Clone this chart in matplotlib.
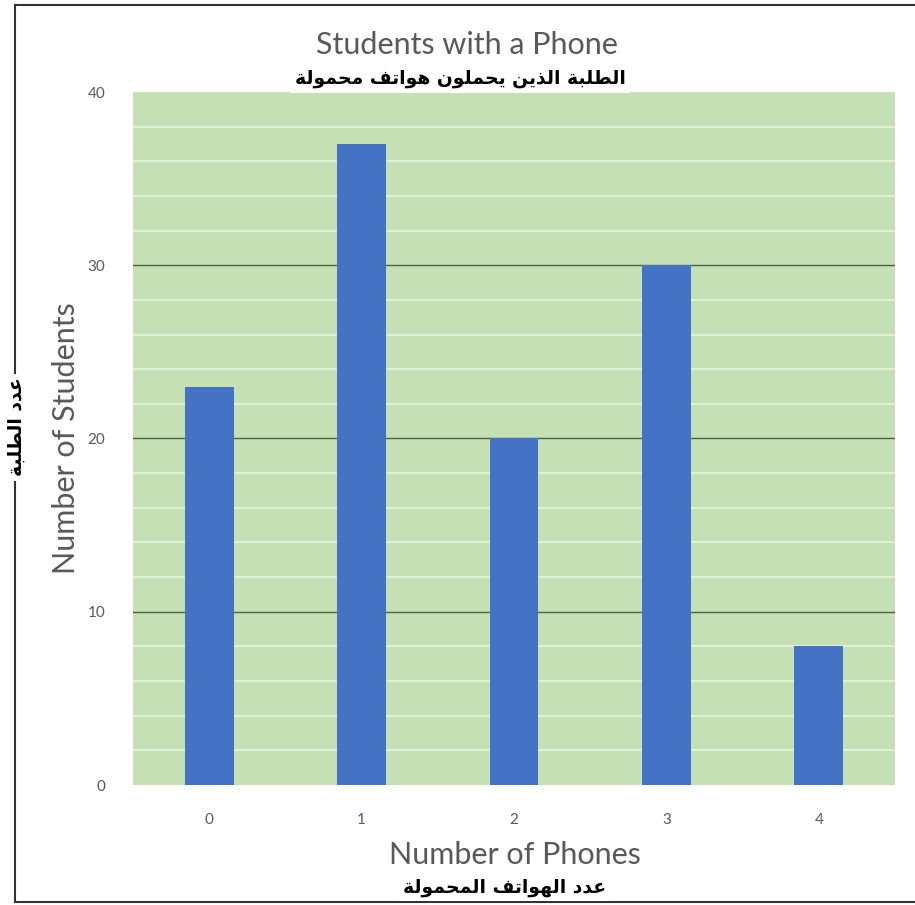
import numpy as np
import matplotlib.pyplot as plt
from matplotlib.lines import Line2D

# data
phones = [0, 1, 2, 3, 4]
students = [23, 37, 20, 30, 8]
y_ticks = [0, 10, 20, 30, 40]

title_en = "Students with a Phone"
title_ar = "الطلبة الذين يحملون هواتف محمولة"
xlabel_en = "Number of Phones"
xlabel_ar = "عدد الهواتف المحمولة"
ylabel_en = "Number of Students"
ylabel_ar = "عدد الطلبة"

# matplotlib has no arabic shaping, so map letters to presentation forms
DUAL = {'ب': 0xFE8F, 'ت': 0xFE95, 'ث': 0xFE99, 'ج': 0xFE9D, 'ح': 0xFEA1,
        'خ': 0xFEA5, 'س': 0xFEB1, 'ش': 0xFEB5, 'ص': 0xFEB9, 'ض': 0xFEBD,
        'ط': 0xFEC1, 'ظ': 0xFEC5, 'ع': 0xFEC9, 'غ': 0xFECD, 'ف': 0xFED1,
        'ق': 0xFED5, 'ك': 0xFED9, 'ل': 0xFEDD, 'م': 0xFEE1, 'ن': 0xFEE5,
        'ه': 0xFEE9, 'ي': 0xFEF1, 'ئ': 0xFE89}
RIGHT = {'آ': 0xFE81, 'أ': 0xFE83, 'ؤ': 0xFE85, 'إ': 0xFE87, 'ا': 0xFE8D,
         'ة': 0xFE93, 'د': 0xFEA9, 'ذ': 0xFEAB, 'ر': 0xFEAD, 'ز': 0xFEAF,
         'و': 0xFEED, 'ى': 0xFEEF}


def shape_arabic(text):
    out = []
    n = len(text)
    for i, ch in enumerate(text):
        prev_j = i > 0 and text[i - 1] in DUAL
        next_j = i < n - 1 and (text[i + 1] in DUAL or text[i + 1] in RIGHT)
        if ch in DUAL:
            base = DUAL[ch]
            if prev_j and next_j:
                out.append(chr(base + 3))
            elif prev_j:
                out.append(chr(base + 1))
            elif next_j:
                out.append(chr(base + 2))
            else:
                out.append(chr(base))
        elif ch in RIGHT:
            out.append(chr(RIGHT[ch] + (1 if prev_j else 0)))
        else:
            out.append(ch)
    return ''.join(reversed(out))


W, H = 915, 905
fig = plt.figure(figsize=(W / 100, H / 100), dpi=100)
fig.patch.set_facecolor('white')


def fx(x):
    return x / W


def fy(y):
    return 1 - y / H


ax = fig.add_axes([fx(133), fy(785), fx(895) - fx(133), fy(92) - fy(785)])
ax.set_facecolor('#C5E0B4')

ax.bar(phones, students, width=0.32, color='#4472C4', zorder=3)

ax.set_xlim(-0.5, 4.5)
ax.set_ylim(0, 40)
ax.set_yticks(y_ticks)
ax.set_xticks(phones)
ax.set_yticks(np.arange(0, 41, 2), minor=True)
ax.grid(which='minor', axis='y', color='#E0EFD6', linewidth=1.6, zorder=1)
# dark lines only at the inner major ticks
for t in y_ticks[1:-1]:
    ax.axhline(t, color='#4C5E43', linewidth=1.0, zorder=2)
ax.tick_params(which='both', length=0)
ax.tick_params(axis='y', pad=20, labelsize=11, labelcolor='#595959')
ax.tick_params(axis='x', pad=20, labelsize=11, labelcolor='#595959')
for s in ax.spines.values():
    s.set_visible(False)
for lbl in ax.get_xticklabels() + ax.get_yticklabels():
    lbl.set_family('Lato')

# frame lines around the chart
fig.add_artist(Line2D([fx(15), 1], [fy(5), fy(5)], color='#333333', lw=1.5))
fig.add_artist(Line2D([fx(15), fx(15)], [fy(5), fy(902)], color='#333333', lw=1.5))
fig.add_artist(Line2D([fx(15), 1], [fy(902), fy(902)], color='#333333', lw=1.5))

fig.text(fx(467), fy(45), title_en, ha='center', va='center', fontsize=22,
         color='#595959', family='Lato')
fig.text(fx(515), fy(855), xlabel_en, ha='center', va='center', fontsize=22,
         color='#595959', family='Lato')
fig.text(fx(66), fy(438), ylabel_en, ha='center', va='center', fontsize=22,
         color='#595959', family='Lato', rotation=90)

box = dict(facecolor='white', edgecolor='none', pad=3)
fig.text(fx(460), fy(79), shape_arabic(title_ar), ha='center', va='center',
         fontsize=13.5, weight='bold', color='black', family='DejaVu Sans', bbox=box)
fig.text(fx(505), fy(887), shape_arabic(xlabel_ar), ha='center', va='center',
         fontsize=13.5, weight='bold', color='black', family='DejaVu Sans', bbox=box)
fig.text(fx(16), fy(427), shape_arabic(ylabel_ar), ha='center', va='center',
         fontsize=13.5, weight='bold', color='black', family='DejaVu Sans',
         rotation=90, bbox=box)

fig.savefig('out.png', dpi=100)
